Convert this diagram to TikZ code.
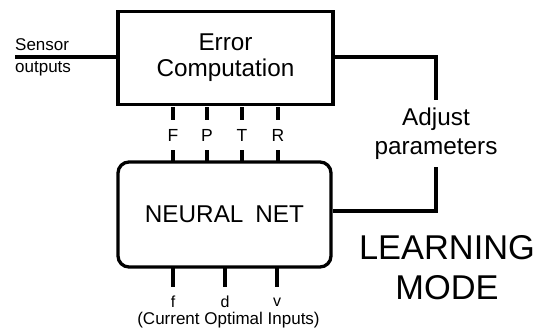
\documentclass[tikz,border=0pt]{standalone}
\usepackage{fontspec}
\setmainfont{Liberation Sans}
\begin{document}
\begin{tikzpicture}[x=1pt,y=-1pt,
  wire/.style={line width=3.3pt},
  blockbox/.style={draw,line width=3.3pt,inner sep=0pt},
  bigtxt/.style={font=\fontsize{24.3}{27}\selectfont,align=center},
  smalltxt/.style={font=\fontsize{17}{20}\selectfont,inner sep=0pt},
  buslbl/.style={font=\fontsize{17.5}{20}\selectfont,inner sep=0pt,minimum height=30pt}]
\useasboundingbox (0,0) rectangle (543,329);

% blocks
\node[blockbox,minimum width=215pt,minimum height=93pt,bigtxt] (err) at (225.5,58)
  {Error\\[-1pt]Computation};
\node[blockbox,rounded corners=11pt,minimum width=213pt,minimum height=105pt,
  font=\fontsize{24.3}{27}\selectfont] (net) at (224.5,214.5) {NEURAL\hspace{12pt}NET};

% sensor input
\coordinate (sin) at (15,57);
\draw[wire] (sin) -- (sin -| err.west);
\node[smalltxt,anchor=west] (sens) at (15,45) {Sensor};
\node[smalltxt,anchor=west] (outp) at (15,69) {outputs};

% parameter adjustment loop
\node[bigtxt,inner sep=0pt] (adj) at (436,133.5) {Adjust\\[2pt]parameters};
\coordinate (c1) at (436,57);
\coordinate (c2) at (436,211);
\draw[wire] (c1 -| err.east) -- (c1) -- (adj.north |- 0,100);
\draw[wire] (adj.south |- 0,167) -- (c2) -- (c2 -| net.east);

% error signals, broken around their labels
\foreach \x/\t/\n in {173/F/bf,207/P/bp,242/T/bt,278/R/br}{
  \node[buslbl] (\n) at (\x,135) {\t};
  \draw[wire] (\x,107) -- (\n.north);
  \draw[wire] (\n.south) -- (\x,162);
}

% optimal inputs
\foreach \x/\t/\n in {173/f/of,225/d/od,277/v/ov}{
  \node[font=\fontsize{16}{18}\selectfont,inner sep=0pt] (\n) at (\x,302) {\t};
  \draw[wire] (\x,267) -- (\x,287);
}
\node[smalltxt] (cur) at (228.5,320) {(Current Optimal Inputs)};

% mode label
\node[font=\fontsize{34.4}{40}\selectfont,align=center,inner sep=0pt] (mode) at (447,268)
  {LEARNING\\MODE};
\end{tikzpicture}
\end{document}
